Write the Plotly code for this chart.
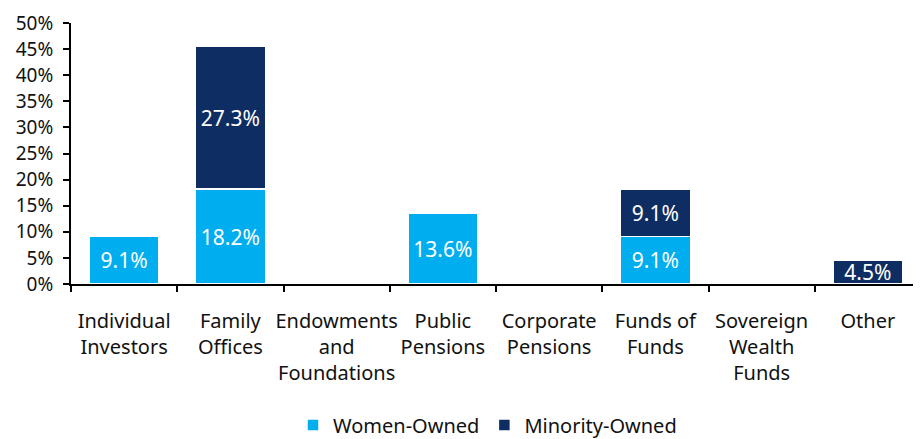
import plotly.graph_objects as go

categories = ["Individual<br>Investors", "Family<br>Offices", "Endowments<br>and<br>Foundations",
              "Public<br>Pensions", "Corporate<br>Pensions", "Funds of<br>Funds",
              "Sovereign<br>Wealth<br>Funds", "Other"]
women_owned = [9.1, 18.2, None, 13.6, None, 9.1, None, None]
minority_owned = [None, 27.3, None, None, None, 9.1, None, 4.5]

def labels(vals):
    return [f"{v:.1f}%" if v else "" for v in vals]

LIGHT = "#00AEEF"
DARK = "#0E2D63"

fig = go.Figure()
fig.add_bar(x=categories, y=women_owned, name="Women-Owned", marker_color=LIGHT,
            marker_line=dict(color="white", width=1.5),
            text=labels(women_owned), textposition="inside", insidetextanchor="middle",
            textfont=dict(color="white", size=21), cliponaxis=False)
fig.add_bar(x=categories, y=minority_owned, name="Minority-Owned", marker_color=DARK,
            marker_line=dict(color="white", width=1.5),
            text=labels(minority_owned), textposition="inside", insidetextanchor="middle",
            textfont=dict(color="white", size=21), cliponaxis=False)

fig.update_layout(
    barmode="stack", bargap=0.34,
    width=913, height=431,
    margin=dict(l=63, r=0, t=15, b=155, autoexpand=False),
    plot_bgcolor="white", paper_bgcolor="white",
    font=dict(family="Noto Sans", size=20, color="#111111"),
    uniformtext=dict(mode="show", minsize=21),
    legend=dict(orientation="h", x=0.49, xanchor="center", y=-0.54, yanchor="middle",
                font=dict(size=20), traceorder="normal", itemwidth=30),
    showlegend=True,
)
fig.update_xaxes(showline=True, linecolor="black", linewidth=2, ticks="outside",
                 tickson="boundaries", ticklen=6, tickwidth=2, tickcolor="black",
                 showgrid=False, tickangle=0, automargin=False, ticklabelstandoff=18)
fig.update_yaxes(range=[0, 50], dtick=5, ticksuffix="%", showline=True, linecolor="black",
                 linewidth=2, ticks="outside", ticklen=6, tickwidth=2, tickcolor="black",
                 showgrid=False, zeroline=False, automargin=False, ticklabelstandoff=6,
                 ticklabeloverflow="allow", tickfont=dict(size=19))

fig.write_html("out.html")
